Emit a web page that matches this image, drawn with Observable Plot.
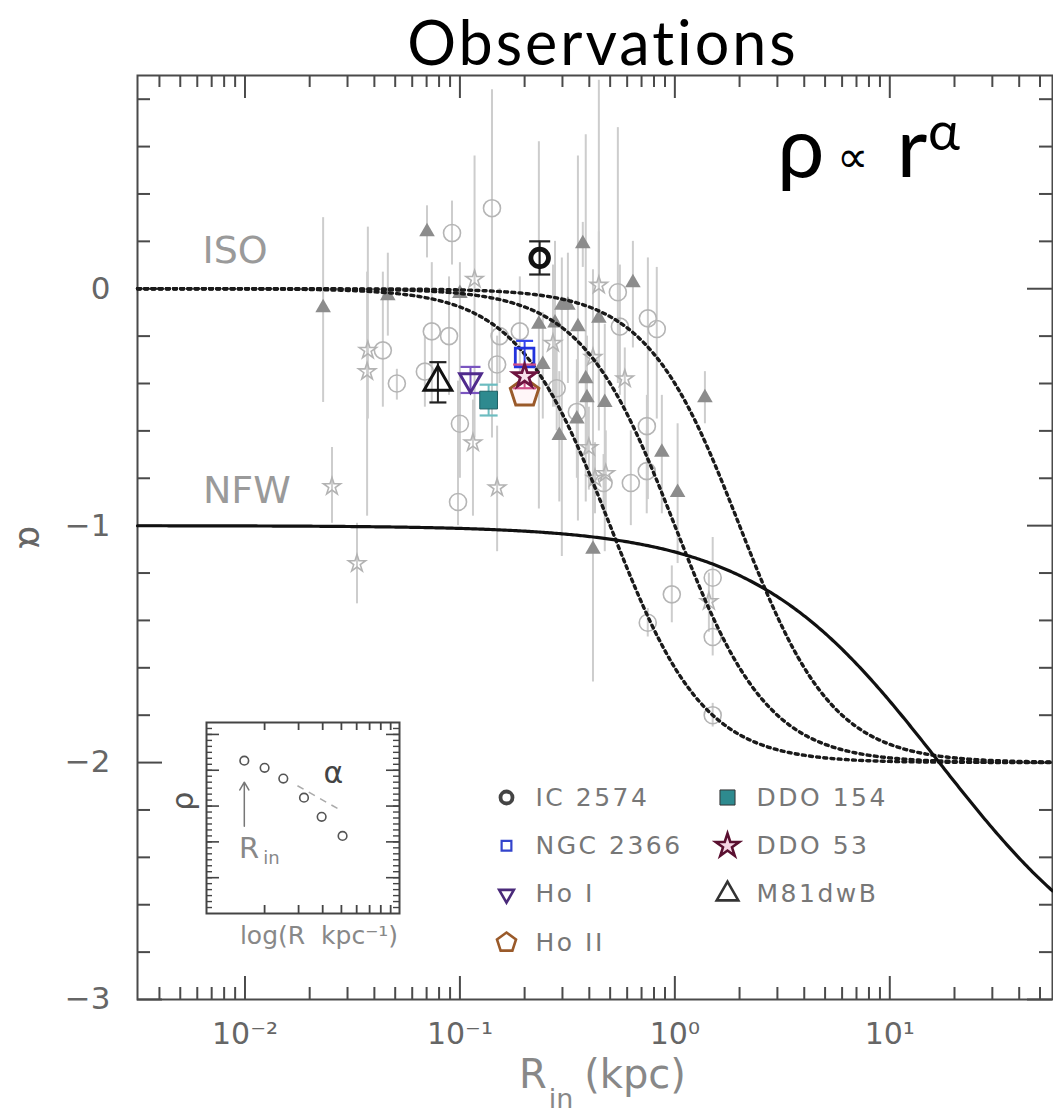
<!DOCTYPE html>
<html>
<head>
<meta charset="utf-8">
<script src="https://cdn.jsdelivr.net/npm/d3@7"></script>
<script src="https://cdn.jsdelivr.net/npm/@observablehq/plot@0.6"></script>
<style>
  body { margin: 0; background: #fff; }
  #wrap { position: relative; width: 1053px; height: 1115px; overflow: hidden; background: #fff; }
  #wrap > svg { position: absolute; }
</style>
</head>
<body>
<div id="wrap"></div>
<script>
// ---- Inner log-slope measurements: [R_in (kpc), alpha, upper, lower] ----
const circleSample = [
  [0.0438, -0.26, 0.07, -0.50], [0.0509, -0.40, -0.34, -0.47], [0.0919, 0.235, 0.37, 0.10],
  [0.141, 0.34, 0.84, -0.63], [0.074, -0.18, 0.11, -0.48], [0.089, -0.20, 0.05, -0.45],
  [0.0687, -0.35, -0.20, -0.50], [0.153, -0.20, 0.00, -0.40], [0.149, -0.32, -0.20, -0.45],
  [0.100, -0.57, -0.35, -0.80], [0.098, -0.90, -0.39, -1.00], [0.543, -0.015, 0.68, -0.40],
  [0.19, -0.18, 0.05, -0.40], [0.555, -0.16, 0.10, -0.45], [0.749, -0.125, 0.13, -0.89],
  [0.824, -0.17, 0.09, -0.55], [0.282, -0.42, -0.25, -0.60], [0.35, -0.52, -0.35, -0.70],
  [0.741, -0.58, -0.45, -0.70], [0.74, -0.77, -0.60, -0.95], [0.624, -0.82, -0.60, -1.00],
  [0.466, -0.82, -0.70, -0.95], [1.50, -1.22, -1.05, -1.33], [0.968, -1.29, -1.17, -1.41],
  [0.748, -1.41, -1.35, -1.47], [1.50, -1.47, -1.40, -1.55], [1.50, -1.80, -1.75, -1.85]
];
const triangleSample = [
  [0.0231, -0.08, 0.30, -0.48], [0.0462, -0.03, 0.15, -0.20], [0.0703, 0.24, 0.35, 0.13],
  [0.100, -0.02, 0.11, -0.58], [0.373, 0.19, 0.28, 0.09], [0.298, -0.07, 0.13, -1.13],
  [0.318, -0.07, 0.15, -0.40], [0.638, 0.025, 0.20, -0.25], [0.233, -0.15, 0.62, -0.93],
  [0.277, -0.145, 0.20, -0.50], [0.354, -0.16, 0.56, -0.98], [0.443, -0.125, 0.24, -0.50],
  [0.243, -0.32, -0.10, -0.55], [0.385, -0.38, 0.65, -0.90], [0.39, -0.46, -0.20, -0.70],
  [0.472, -0.48, -0.15, -1.11], [0.35, -0.55, -0.30, -0.80], [0.29, -0.62, -0.35, -0.90],
  [1.38, -0.46, -0.35, -0.57], [0.87, -0.69, -0.45, -0.95], [1.03, -0.86, -0.57, -1.16],
  [0.416, -1.10, 0.08, -1.66]
];
const starSample = [
  [0.0373, -0.26, 0.26, -0.55], [0.037, -0.35, 0.07, -0.96], [0.0254, -0.835, -0.67, -0.99],
  [0.0332, -1.16, -0.99, -1.33], [0.117, 0.04, 0.56, -0.63], [0.115, -0.65, -0.47, -0.96],
  [0.149, -0.84, -0.58, -1.11], [0.443, 0.015, 0.88, -0.60], [0.271, -0.23, 0.10, -0.50],
  [0.416, -0.29, -0.10, -0.50], [0.585, -0.38, -0.25, -0.50], [0.398, -0.67, -0.50, -0.85],
  [0.477, -0.78, -0.60, -0.95], [0.425, -0.80, -0.65, -0.95], [1.44, -1.32, -1.20, -1.45]
];

// ---- Highlighted dwarf galaxies ----
const galaxyNames = ["IC 2574", "NGC 2366", "Ho I", "Ho II", "DDO 154", "DDO 53", "M81dwB"];
const galaxyRin   = [0.235, 0.200, 0.112, 0.200, 0.136, 0.200, 0.079];
const galaxyAlpha = [0.13, -0.29, -0.385, -0.44, -0.47, -0.37, -0.395];
const galaxyErr   = [0.07, 0.07, 0.055, 0.03, 0.065, 0.05, 0.085];

// ---- Model profiles ----
const isoCoreRadii = [0.5, 1, 2];   // pseudo-isothermal core radii (kpc)
const nfwScaleRadius = [17];        // NFW scale radius (kpc)

// ---- Axis ticks ----
const xMajorTicks = [0.01, 0.1, 1, 10];
const yMajorTicks = [0, -1, -2, -3];

// ---- Inset sketch: density points along log radius ----
const insetLogR = [1.57, 2.0, 2.5, 3.2, 3.95, 5.07];
const insetRho  = [12.8, 12.2, 11.3, 9.7, 8.1, 6.5];

// ---------------------------------------------------------------
const X0 = 10 ** -2.5, X1 = 10 ** 1.757;
const W = 1053, H = 1115, mL = 137, mR = 1, mT = 75, mB = 116;
const fw = W - mL - mR, fh = H - mT - mB;
const AX = "#4a4a4a";
const FONT = "DejaVu Sans, sans-serif";

// custom marker shapes (radius = r option)
const rad = size => Math.sqrt(size / Math.PI);
const triUp = {draw(c, s) { const R = rad(s); c.moveTo(0, -R); c.lineTo(R * 0.866, R / 2); c.lineTo(-R * 0.866, R / 2); c.closePath(); }};
const triDown = {draw(c, s) { const R = rad(s); c.moveTo(0, R); c.lineTo(R * 0.866, -R / 2); c.lineTo(-R * 0.866, -R / 2); c.closePath(); }};
const pentagon = {draw(c, s) { const R = rad(s); for (let i = 0; i < 5; i++) { const a = -Math.PI / 2 + i * 2 * Math.PI / 5; i ? c.lineTo(R * Math.cos(a), R * Math.sin(a)) : c.moveTo(R * Math.cos(a), R * Math.sin(a)); } c.closePath(); }};
const cap = {draw(c, s) { const R = rad(s); c.moveTo(-R, 0); c.lineTo(R, 0); }};

const galaxyStyle = {
  "IC 2574":  {symbol: "circle", stroke: "#111", fill: "none", r: 8.8, sw: 4.8, err: "#222", capR: 10.5, lg: {r: 6, sw: 3.8, stroke: "#444"}},
  "NGC 2366": {symbol: "square", stroke: "#2233dd", fill: "none", r: 10.5, sw: 2.8, err: "#3344ee", capR: 8.5, lg: {r: 5.5, sw: 2.2, stroke: "#3344cc"}},
  "Ho I":     {symbol: triDown, stroke: "#4f2a8c", fill: "none", r: 12.5, sw: 3, err: "#7a55c0", capR: 10, lg: {r: 8.5, sw: 2.6, stroke: "#4a2a7a"}},
  "Ho II":    {symbol: pentagon, stroke: "#9a5a2a", fill: "#fff6f8", r: 15, sw: 3, err: "#c06a90", capR: 11, lg: {r: 10, sw: 2.6, stroke: "#9a5a2a", fill: "#fff"}},
  "DDO 154":  {symbol: "square", stroke: "#1d5f63", fill: "#2e8a8f", r: 10, sw: 1, err: "#6cbcc0", capR: 9, lg: {r: 8.5, sw: 1, stroke: "#333", fill: "#2e8a8f"}},
  "DDO 53":   {symbol: "star", stroke: "#6d1440", fill: "#f7e0ea", r: 7.2, sw: 2.8, err: "#d0508a", capR: 11.5, lg: {r: 7.4, sw: 2.6, stroke: "#5a1030", fill: "#f5d5e5"}},
  "M81dwB":   {symbol: triUp, stroke: "#111", fill: "none", r: 16, sw: 3, err: "#222", capR: 8.5, lg: {r: 12.5, sw: 2.6, stroke: "#333"}}
};
const legendCol = [0, 0, 0, 0, 1, 1, 1];
const legendRow = [0, 1, 2, 3, 0, 1, 2];

// ---- derived tables ----
const pow = d => Math.round(Math.log10(d));
const supMap = {"-": "⁻", "0": "⁰", "1": "¹", "2": "²", "3": "³"};
const fmtPow = d => "10" + String(pow(d)).split("").map(ch => supMap[ch]).join("");
const xMinorTicks = d3.range(-3, 2).flatMap(e => d3.range(2, 10).map(m => m * 10 ** e)).filter(v => v > X0 && v < X1);
const yMinorTicks = d3.range(-15, 5).map(i => i / 5).filter(v => !Number.isInteger(v));

const rGrid = d3.range(0, 501).map(i => 10 ** (-2.5 + i * (Math.log10(X1) + 2.5) / 500));
const isoCurves = isoCoreRadii.flatMap(rc => rGrid.map(r => ({r, a: -2 * (r / rc) ** 2 / (1 + (r / rc) ** 2), rc})));
const nfwCurve = nfwScaleRadius.flatMap(rs => rGrid.map(r => ({r, a: -1 - 2 * (r / rs) / (1 + r / rs)})));

const rows = arr => arr.map(([r, a, hi, lo]) => ({r, a, hi, lo}));
const circles = rows(circleSample), triangles = rows(triangleSample), stars = rows(starSample);
const galaxies = galaxyNames.map((name, i) => ({
  name, r: galaxyRin[i], a: galaxyAlpha[i],
  hi: galaxyAlpha[i] + galaxyErr[i], lo: galaxyAlpha[i] - galaxyErr[i],
  col: legendCol[i], row: legendRow[i]
}));
const drawOrder = ["Ho II", "NGC 2366", "DDO 53", "Ho I", "DDO 154", "M81dwB", "IC 2574"];

const galaxyMarks = drawOrder.flatMap(name => {
  const g = galaxies.filter(d => d.name === name), s = galaxyStyle[name];
  return [
    Plot.ruleX(g, {x: "r", y1: "lo", y2: "hi", stroke: s.err, strokeWidth: 2}),
    Plot.dot(g, {x: "r", y: "hi", symbol: cap, r: s.capR, stroke: s.err, strokeWidth: 2.2}),
    Plot.dot(g, {x: "r", y: "lo", symbol: cap, r: s.capR, stroke: s.err, strokeWidth: 2.2}),
    Plot.dot(g, {x: "r", y: "a", symbol: s.symbol, r: s.r, stroke: s.stroke, fill: s.fill, strokeWidth: s.sw})
  ];
});

const modelLabels = [{text: "ISO", r: 0.0090, a: 0.16}, {text: "NFW", r: 0.0102, a: -0.855}];

const main = Plot.plot({
  width: W, height: H,
  marginLeft: mL, marginRight: mR, marginTop: mT, marginBottom: mB,
  x: {type: "log", domain: [X0, X1], axis: null},
  y: {domain: [-3, 0.9], axis: null},
  style: {background: "transparent", fontFamily: FONT, overflow: "visible"},
  marks: [
    // inward ticks on all four sides
    Plot.ruleX(xMajorTicks, {insetTop: fh - 23, stroke: AX, strokeWidth: 2}),
    Plot.ruleX(xMinorTicks, {insetTop: fh - 12, stroke: AX, strokeWidth: 2}),
    Plot.ruleX(xMajorTicks, {insetBottom: fh - 23, stroke: AX, strokeWidth: 2}),
    Plot.ruleX(xMinorTicks, {insetBottom: fh - 12, stroke: AX, strokeWidth: 2}),
    Plot.ruleY(yMajorTicks, {insetRight: fw - 25, stroke: AX, strokeWidth: 2}),
    Plot.ruleY(yMinorTicks, {insetRight: fw - 13, stroke: AX, strokeWidth: 2}),
    Plot.ruleY(yMajorTicks, {insetLeft: fw - 25, stroke: AX, strokeWidth: 2}),
    Plot.ruleY(yMinorTicks, {insetLeft: fw - 13, stroke: AX, strokeWidth: 2}),
    Plot.frame({stroke: AX, strokeWidth: 2}),

    // tick labels and axis titles
    Plot.text(xMajorTicks, {x: d => d, frameAnchor: "bottom", lineAnchor: "top", dy: 23, text: fmtPow, fontSize: 30, fill: "#666"}),
    Plot.text(yMajorTicks, {y: d => d, frameAnchor: "left", textAnchor: "end", dx: -27, text: d => d === 0 ? "0" : "−" + (-d), fontSize: 31, fill: "#666"}),
    Plot.text(["α"], {y: -1, frameAnchor: "left", dx: -107, rotate: 90, text: d => d, fontSize: 36, fill: "#666"}),
    Plot.text(["R"], {frameAnchor: "bottom", lineAnchor: "middle", dx: -62, dy: 76, text: d => d, fontSize: 40, fill: "#888"}),
    Plot.text(["in"], {frameAnchor: "bottom", lineAnchor: "middle", dx: -34, dy: 100, text: d => d, fontSize: 27, fill: "#888"}),
    Plot.text(["(kpc)"], {frameAnchor: "bottom", lineAnchor: "middle", dx: 40, dy: 76, text: d => d, fontSize: 40, fill: "#888"}),

    // measurements with error bars
    Plot.ruleX([...circles, ...triangles, ...stars], {x: "r", y1: "lo", y2: "hi", stroke: "#cdcdcd", strokeWidth: 2}),
    Plot.dot(circles, {x: "r", y: "a", r: 8.5, stroke: "#b5b5b5", strokeWidth: 1.6, fill: "none"}),
    Plot.dot(stars, {x: "r", y: "a", symbol: "star", r: 5.4, stroke: "#b3b3b3", strokeWidth: 1.6, fill: "none"}),
    Plot.dot(triangles, {x: "r", y: "a", symbol: triUp, r: 9, fill: "#8c8c8c"}),

    // model slopes
    Plot.line(isoCurves, {x: "r", y: "a", z: "rc", stroke: "#1a1a1a", strokeWidth: 3.4, strokeDasharray: "3 4.2"}),
    Plot.line(nfwCurve, {x: "r", y: "a", stroke: "#111", strokeWidth: 3.2}),
    Plot.text(modelLabels, {x: "r", y: "a", text: "text", fontSize: 38, fill: "#9a9a9a"}),

    ...galaxyMarks
  ]
});

// heading and profile formula
const svgMain = d3.select(main);
svgMain.append("text").attr("x", 603).attr("y", 65).attr("text-anchor", "middle")
  .attr("font-family", "Lato, sans-serif").attr("font-size", 61).attr("letter-spacing", 3)
  .attr("fill", "#000").text("Observations");
const formula = svgMain.append("text").attr("font-family", "Lato, sans-serif").attr("fill", "#000");
formula.append("tspan").attr("x", 801).attr("y", 177).attr("font-size", 84).text("ρ");
formula.append("tspan").attr("x", 852).attr("y", 172).attr("font-size", 44).text("∝");
formula.append("tspan").attr("x", 912).attr("y", 177).attr("font-size", 84).text("r");
formula.append("tspan").attr("x", 944).attr("y", 150).attr("font-size", 54).text("α");

// ---- inset: how the inner slope is measured ----
const inset = Plot.plot({
  width: 273, height: 241,
  marginLeft: 50, marginRight: 30, marginTop: 10, marginBottom: 40,
  x: {type: "log", domain: [1, 10], axis: null},
  y: {domain: [0, 16], axis: null},
  style: {background: "transparent", fontFamily: FONT, overflow: "visible"},
  marks: [
    Plot.ruleX(d3.range(2, 10), {insetTop: 191 - 8, stroke: "#444", strokeWidth: 1.8}),
    Plot.ruleX(d3.range(2, 10), {insetBottom: 191 - 8, stroke: "#444", strokeWidth: 1.8}),
    Plot.ruleY(d3.range(0.5, 16, 0.5), {insetRight: 193 - 6, stroke: "#444", strokeWidth: 1.4}),
    Plot.ruleY(d3.range(0.5, 16, 0.5), {insetLeft: 193 - 6, stroke: "#444", strokeWidth: 1.4}),
    Plot.ruleY([3, 6, 9, 12, 15], {insetRight: 193 - 13, stroke: "#444", strokeWidth: 1.6}),
    Plot.ruleY([3, 6, 9, 12, 15], {insetLeft: 193 - 13, stroke: "#444", strokeWidth: 1.6}),
    Plot.frame({stroke: "#444", strokeWidth: 2}),
    Plot.link([{x1: 2.96, y1: 10.7, x2: 4.77, y2: 8.8}], {x1: "x1", y1: "y1", x2: "x2", y2: "y2", stroke: "#aaa", strokeWidth: 1.5, strokeDasharray: "7 6"}),
    Plot.arrow([{x: insetLogR[0], y1: 7.3, y2: 11.0}], {x1: "x", x2: "x", y1: "y1", y2: "y2", stroke: "#777", strokeWidth: 1.5, headLength: 9}),
    Plot.dot(insetLogR.map((x, i) => ({x, y: insetRho[i]})), {x: "x", y: "y", r: 4.3, stroke: "#555", strokeWidth: 1.6, fill: "none"}),
    Plot.text(["α"], {x: 4.55, y: 11.7, text: d => d, fontSize: 30, fill: "#444"}),
    Plot.text(["R"], {x: 1.66, y: 5.4, text: d => d, fontSize: 29, fill: "#888"}),
    Plot.text(["in"], {x: 2.17, y: 4.6, text: d => d, fontSize: 18, fill: "#888"}),
    Plot.text(["ρ"], {y: 8.6, frameAnchor: "left", dx: -23, rotate: -90, text: d => d, fontSize: 30, fill: "#555"}),
    Plot.text(["log(R  kpc⁻¹)"], {frameAnchor: "bottom", lineAnchor: "middle", dx: 16, dy: 22, text: d => d, fontSize: 25, fill: "#888"})
  ]
});
inset.style.left = "156px";
inset.style.top = "712px";

// ---- galaxy key ----
const key = Plot.plot({
  width: 420, height: 190, margin: 0,
  x: {domain: [0, 1], range: [16, 237], axis: null},
  y: {domain: [0, 3], range: [22, 167], axis: null},
  style: {background: "transparent", fontFamily: FONT, letterSpacing: "2.5px", overflow: "visible"},
  marks: [
    ...galaxies.map(g => {
      const s = galaxyStyle[g.name], l = s.lg;
      return Plot.dot([g], {x: "col", y: "row", symbol: s.symbol, r: l.r, stroke: l.stroke, fill: l.fill || "none", strokeWidth: l.sw});
    }),
    Plot.text(galaxies, {x: "col", y: "row", text: "name", dx: 29, textAnchor: "start", fontSize: 25, fill: "#777"})
  ]
});
key.style.left = "490px";
key.style.top = "775px";

const wrap = document.getElementById("wrap");
main.style.left = "0px";
main.style.top = "0px";
wrap.append(main, inset, key);
</script>
</body>
</html>
